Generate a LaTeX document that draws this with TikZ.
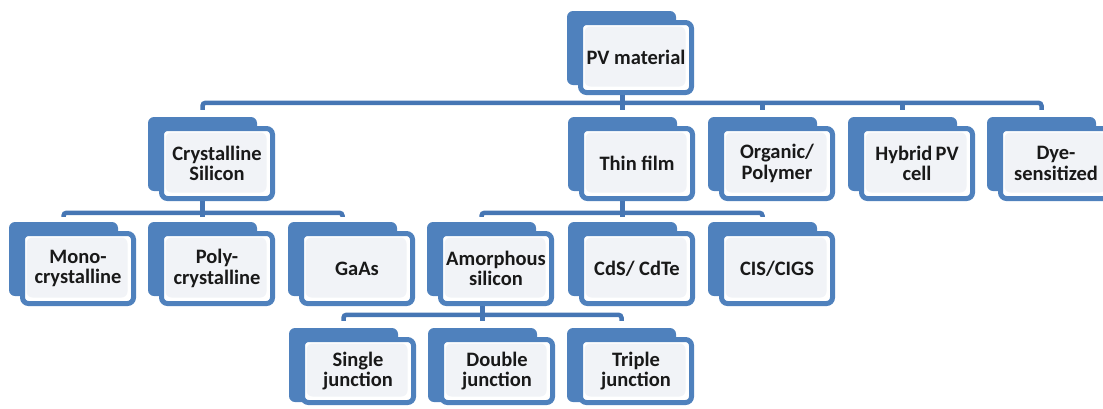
\documentclass[tikz,border=0pt]{standalone}
\usepackage{fontspec}
\setmainfont{Carlito}
\usetikzlibrary{positioning}
\definecolor{pvblue}{RGB}{79,129,189}
\definecolor{pvline}{RGB}{70,118,180}
\definecolor{pvinner}{RGB}{241,243,247}
\definecolor{pvtext}{RGB}{25,25,25}
\tikzset{
  backbox/.style={fill=pvblue, draw=none, rounded corners=6pt,
    minimum width=109pt, minimum height=74pt, inner sep=0pt},
  frontbox/.style={draw=pvblue, line width=5pt, fill=white, rounded corners=6pt,
    minimum width=111pt, minimum height=70pt, inner sep=0pt, align=center,
    text=pvtext, font=\fontsize{20.5}{20.5}\selectfont\bfseries,
    path picture={\fill[pvinner] ([shift={(4pt,-4pt)}]path picture bounding box.north west)
      rectangle ([shift={(-6pt,6pt)}]path picture bounding box.south east);}},
  conn/.style={draw=pvline, line width=4.5pt, rounded corners=3pt},
}
\newcommand{\pvnode}[4]{%
  \node[backbox] (#1B) at ({#2+54.5},{#3+37}) {};
  \node[frontbox] (#1) at ({#2+69},{#3+46.5}) {#4};
}
\begin{document}
\begin{tikzpicture}[x=1pt,y=-1pt]
\useasboundingbox (0,0) rectangle (1103,408);
% level 0
\pvnode{pv}{567}{11}{PV material}
% level 1
\pvnode{crys}{148}{117}{Crystalline\\Silicon}
\pvnode{thin}{568}{117}{Thin film}
\pvnode{org}{708}{117}{Organic/\\Polymer}
\pvnode{hyb}{848}{117}{Hybrid\,PV\\cell}
\pvnode{dye}{987}{117}{Dye-\\sensitized}
% level 2
\pvnode{mono}{9}{222}{Mono-\\crystalline}
\pvnode{poly}{148}{222}{Poly-\\crystalline}
\pvnode{gaas}{288}{222}{GaAs}
\pvnode{amor}{427}{222}{Amorphous\\silicon}
\pvnode{cds}{568}{222}{CdS/ CdTe}
\pvnode{cis}{708}{222}{CIS/CIGS}
% level 3 (cropped at the bottom)
\node[backbox] (sglB) at ({289+54.5},{328+37}) {};
\node[frontbox, minimum height=63pt] (sgl) at ({289+69},{328+43}) {Single\\junction};
\node[backbox] (dblB) at ({428+54.5},{328+37}) {};
\node[frontbox, minimum height=63pt] (dbl) at ({428+69},{328+43}) {Double\\junction};
\node[backbox] (trpB) at ({567+54.5},{328+37}) {};
\node[frontbox, minimum height=63pt] (trp) at ({567+69},{328+43}) {Triple\\junction};
% connectors level 0 -> 1
\draw[conn] ([yshift=7pt]crysB.north) -- ([yshift=14pt]crysB.north) -- ([yshift=14pt]dyeB.north) -- ([yshift=7pt]dyeB.north);
\draw[conn] (pv.south -| thinB.north) -- ([yshift=7pt]thinB.north);
\draw[conn] ([yshift=7pt]orgB.north) -- ([yshift=14pt]orgB.north);
\draw[conn] ([yshift=7pt]hybB.north) -- ([yshift=14pt]hybB.north);
% connectors level 1 -> 2
\draw[conn] ([yshift=5pt]monoB.north) -- ([yshift=9pt]monoB.north) -- ([yshift=9pt]gaasB.north) -- ([yshift=5pt]gaasB.north);
\draw[conn] (crys.south -| polyB.north) -- ([yshift=5pt]polyB.north);
\draw[conn] ([yshift=5pt]amorB.north) -- ([yshift=9pt]amorB.north) -- ([yshift=9pt]cisB.north) -- ([yshift=5pt]cisB.north);
\draw[conn] (thin.south -| cdsB.north) -- ([yshift=5pt]cdsB.north);
% connectors level 2 -> 3
\draw[conn] ([yshift=7pt]sglB.north) -- ([yshift=13pt]sglB.north) -- ([yshift=13pt]trpB.north) -- ([yshift=7pt]trpB.north);
\draw[conn] (amor.south -| dblB.north) -- ([yshift=7pt]dblB.north);
\end{tikzpicture}
\end{document}
